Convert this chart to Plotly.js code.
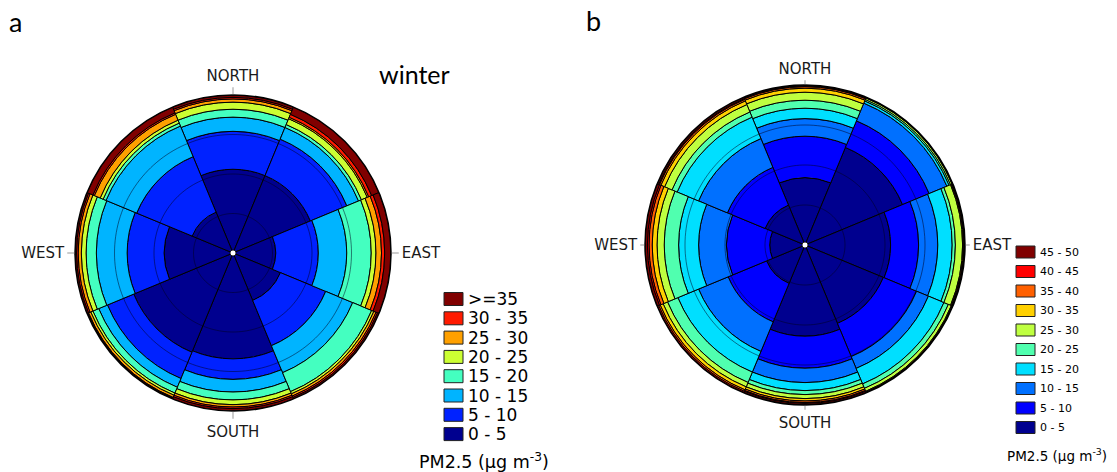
<!DOCTYPE html>
<html><head><meta charset="utf-8">
<script src="https://cdn.plot.ly/plotly-3.0.1.min.js"></script>
<style>html,body{margin:0;padding:0;background:#fff}#chart{width:1117px;height:472px}</style>
</head><body><div id="chart"></div>
<script>
// ---------- DATA ----------
const directions = ['N','NE','E','SE','S','SW','W','NW'];
const directionAngles = [0,45,90,135,180,225,270,315];
const compassTickAngles = [0,90,180,270];
const compassTickLabels = ['NORTH','EAST','SOUTH','WEST'];
const radialGridLevels = [25,50,75];

// Panel a (winter): share (%) of each PM2.5 class per wind direction
const winterBinLabels = ['0 - 5','5 - 10','10 - 15','15 - 20','20 - 25','25 - 30','30 - 35','>=35'];
const winter_0_5   = [53, 53, 27, 32.5, 67, 68, 43.5, 28];
const winter_5_10  = [24, 25, 27, 31, 13, 18, 23.5, 38];
const winter_10_15 = [9, 8, 18, 18.5, 8, 6, 19.5, 21];
const winter_15_20 = [5, 2, 15.5, 13, 5, 4, 6.5, 2];
const winter_20_25 = [4.5, 4, 3, 1.5, 3, 1.5, 3, 2];
const winter_25_30 = [2, 1, 3.5, 1.5, 1.5, 1.5, 2, 4];
const winter_30_35 = [1, 2, 2, 1, 1, 0.5, 1, 1];
const winter_ge35  = [1.5, 5, 4, 1, 1.5, 0.5, 1, 4];

// Panel b
const bBinLabels = ['0 - 5','5 - 10','10 - 15','15 - 20','20 - 25','25 - 30','30 - 35','35 - 40','40 - 45','45 - 50'];
const b_0_5   = [42, 66, 53.5, 53, 57, 26, 22, 27];
const b_5_10  = [26, 18, 17.5, 22.5, 20, 26, 27, 25.5];
const b_10_15 = [11, 12, 12, 8, 9, 20, 17.5, 19.5];
const b_15_20 = [6.5, 1.5, 9, 10.5, 5, 14, 12.5, 14.5];
const b_20_25 = [5, 1, 2, 3, 2.5, 7, 9, 3.5];
const b_25_30 = [5, 1, 4.5, 2, 2.5, 3, 4.5, 5];
const b_30_35 = [2.5, 0.3, 0.5, 0.5, 1.5, 2, 3, 2.5];
const b_35_40 = [1, 0.1, 0.5, 0.3, 1, 1, 2, 1];
const b_40_45 = [0.5, 0.05, 0.3, 0.1, 0.5, 1, 1, 0.5];
const b_45_50 = [0.5, 0.05, 0.2, 0.1, 1, 1, 1.5, 1];

// ---------- STYLE ----------
const winterColors = ['#00008F','#0022FF','#00B4FF','#44FFC0','#CCFF33','#FFA000','#FF1A00','#800000'];
const bColors = ['#00008F','#0000FF','#0070FF','#00DFFF','#50FFAF','#BFFF40','#FFD000','#FF6000','#FF0000','#800000'];

const W = 1117, H = 472;
const px = x => x / W;
const py = y => 1 - y / H;

const winterValues = [winter_0_5, winter_5_10, winter_10_15, winter_15_20, winter_20_25, winter_25_30, winter_30_35, winter_ge35];
const bValues = [b_0_5, b_5_10, b_10_15, b_15_20, b_20_25, b_25_30, b_30_35, b_35_40, b_40_45, b_45_50];

const traces = [];
function addRose(subplot, labels, values, colors) {
  labels.forEach((lab, i) => {
    traces.push({
      type: 'barpolar', subplot: subplot, name: lab,
      r: values[i], theta: directionAngles, width: 45,
      customdata: directions,
      marker: {color: colors[i], line: {color: '#000', width: 1}},
      hovertemplate: '%{customdata}: %{r}%<extra>' + lab + '</extra>',
      showlegend: false
    });
  });
  // concentric reference circles drawn over the bars
  const r = [], th = [];
  radialGridLevels.forEach(lv => {
    for (let a = 0; a <= 360; a += 2) { r.push(lv); th.push(a); }
    r.push(null); th.push(null);
  });
  traces.push({type: 'scatterpolar', subplot: subplot, mode: 'lines', r: r, theta: th,
    line: {color: 'rgba(0,0,30,0.5)', width: 1}, hoverinfo: 'skip', showlegend: false, connectgaps: false});
  traces.push({type: 'scatterpolar', subplot: subplot, mode: 'markers', r: [0], theta: [0],
    marker: {color: '#fff', size: 6, line: {color: '#000', width: 0.8}}, hoverinfo: 'skip', showlegend: false});
}
addRose('polar', winterBinLabels, winterValues, winterColors);
addRose('polar2', bBinLabels, bValues, bColors);

function polarLayout(cx, cy, R, fontSize, tickLen) {
  return {
    domain: {x: [px(cx - R), px(cx + R)], y: [py(cy + R), py(cy - R)]},
    bgcolor: 'rgba(0,0,0,0)', barmode: 'stack', bargap: 0, hole: 0,
    radialaxis: {range: [0, 100], visible: false},
    angularaxis: {
      rotation: 90, direction: 'clockwise', tickmode: 'array',
      tickvals: compassTickAngles, ticktext: compassTickLabels,
      ticks: 'outside', ticklen: tickLen, tickwidth: 1, tickcolor: '#999',
      showgrid: false, showline: true, linecolor: '#000', linewidth: 1.5,
      tickfont: {family: 'DejaVu Sans', size: fontSize, color: '#1a1a1a'}
    }
  };
}

const shapes = [], annotations = [];
function addLegend(labels, colors, o) {
  const n = labels.length;
  for (let i = 0; i < n; i++) {
    const k = n - 1 - i;
    const yc = o.top + i * o.step;
    shapes.push({type: 'rect', xref: 'paper', yref: 'paper',
      x0: px(o.bx), x1: px(o.bx + o.bw), y0: py(yc + o.bh / 2), y1: py(yc - o.bh / 2),
      fillcolor: colors[k], line: {color: '#222', width: 1}});
    annotations.push({xref: 'paper', yref: 'paper', x: px(o.tx), y: py(yc), xanchor: 'left', yanchor: 'middle',
      text: labels[k], showarrow: false, font: {family: 'DejaVu Sans', size: o.fs, color: '#000'}});
  }
  annotations.push({xref: 'paper', yref: 'paper', x: px(o.titleX), y: py(o.titleY), xanchor: 'center', yanchor: 'middle',
    text: 'PM2.5 (\u03bcg m<sup>-3</sup>)', showarrow: false, font: {family: 'DejaVu Sans', size: o.titleFs, color: '#000'}});
}
addLegend(winterBinLabels, winterColors, {top: 299, step: 19.3, bx: 444, bw: 19, bh: 13, tx: 466, fs: 17, titleX: 484, titleY: 461, titleFs: 17.5});
addLegend(bBinLabels, bColors, {top: 252, step: 19.5, bx: 1016, bw: 19, bh: 12, tx: 1038, fs: 11, titleX: 1057, titleY: 455, titleFs: 13.5});

annotations.push({xref: 'paper', yref: 'paper', x: px(15), y: py(22), xanchor: 'center', yanchor: 'middle',
  text: 'a', showarrow: false, font: {family: 'Lato', size: 27, color: '#000'}});
annotations.push({xref: 'paper', yref: 'paper', x: px(593), y: py(20), xanchor: 'center', yanchor: 'middle',
  text: 'b', showarrow: false, font: {family: 'Lato', size: 27, color: '#000'}});
annotations.push({xref: 'paper', yref: 'paper', x: px(414), y: py(74), xanchor: 'center', yanchor: 'middle',
  text: 'winter', showarrow: false, font: {family: 'Lato', size: 25, color: '#000'}});

const layout = {
  width: W, height: H, margin: {l: 0, r: 0, t: 0, b: 0},
  paper_bgcolor: '#fff', showlegend: false,
  polar: polarLayout(233, 253, 158, 15, 7),
  polar2: polarLayout(805, 245, 160, 15, 4),
  shapes: shapes, annotations: annotations
};
Plotly.newPlot('chart', traces, layout, {displayModeBar: false, staticPlot: true});
</script></body></html>
